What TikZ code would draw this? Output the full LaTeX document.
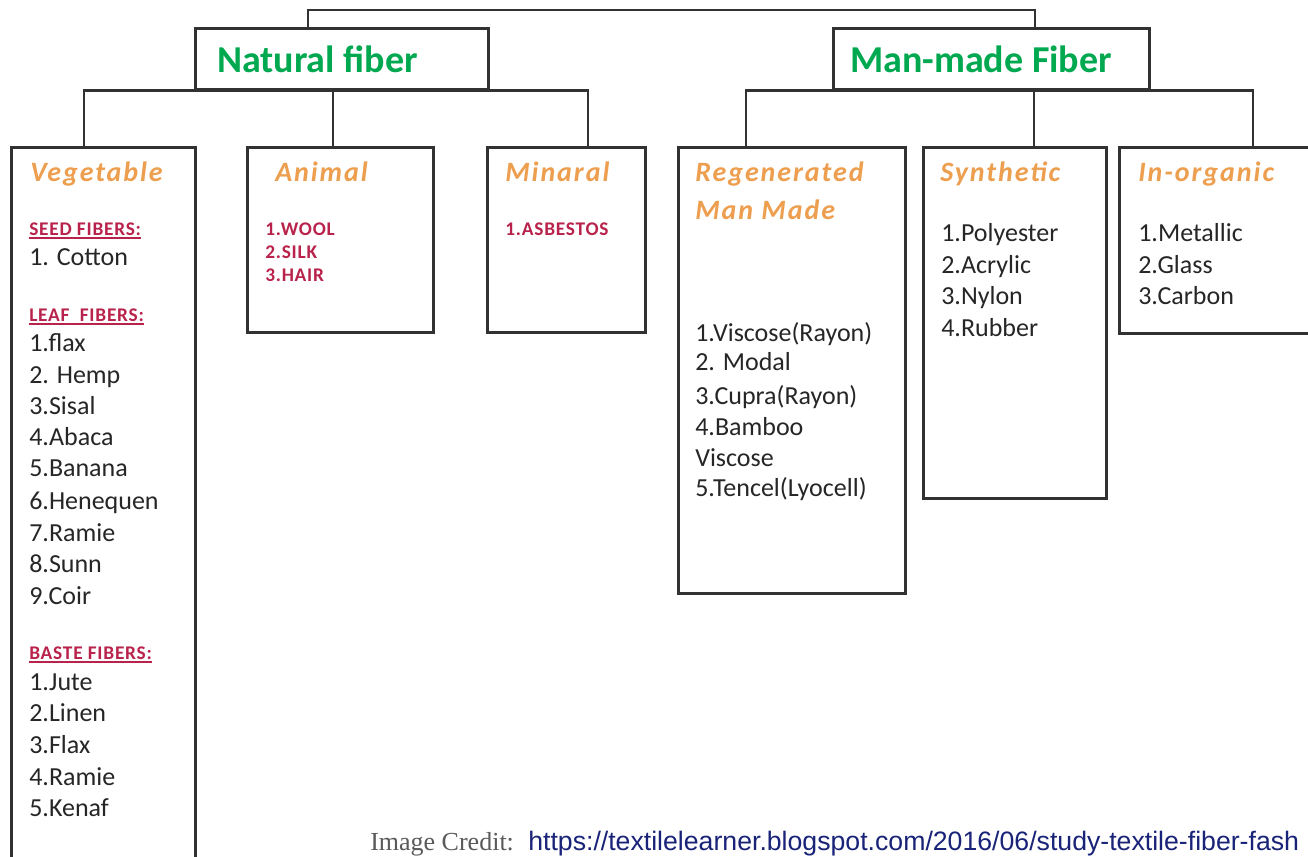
\documentclass[tikz,border=0pt]{standalone}
\usepackage{fontspec}
\setmainfont{Carlito}
\newfontfamily\ttlfont[LetterSpace=7]{Carlito}
\newfontfamily\hdfont[LetterSpace=4]{Carlito}
\newfontfamily\credfont{Liberation Serif}
\newfontfamily\urlfont{Liberation Sans}
\definecolor{fgreen}{RGB}{0,168,80}
\definecolor{forange}{RGB}{237,158,78}
\definecolor{hdc}{RGB}{185,35,75}
\definecolor{itemc}{RGB}{38,38,38}
\definecolor{linec}{RGB}{50,50,50}
\definecolor{credc}{RGB}{90,90,90}
\definecolor{urlc}{RGB}{25,35,120}
\begin{document}
\begin{tikzpicture}[x=0.75pt,y=-0.75pt,
  box/.style={draw=linec, line width=1.9pt, anchor=north west, inner sep=0pt},
  wire/.style={draw=linec, line width=1.6pt},
  maintitle/.style={anchor=base west, inner sep=0pt, font=\fontsize{28.5}{34}\selectfont\bfseries, text=fgreen},
  cat/.style={anchor=base west, inner sep=0pt, font=\ttlfont\fontsize{21}{25}\selectfont\bfseries\itshape, text=forange},
  item/.style={anchor=base west, inner sep=0pt, font=\fontsize{19.5}{23}\selectfont, text=itemc},
  head/.style={anchor=base west, inner sep=0pt, font=\hdfont\fontsize{14.5}{17}\selectfont\bfseries, text=hdc},
  uline/.style={draw=hdc, line width=0.9pt}
]
\fill[white] (0,0) rectangle (1308,856);
\path[use as bounding box, clip] (0,0) rectangle (1308,856);

% top level boxes
\node[box, minimum width=219.75pt, minimum height=45.75pt] (nat) at (194,27) {};
\node[box, minimum width=237pt, minimum height=45.75pt] (man) at (832,27) {};
\node[maintitle] (natt) at (217,72) {Natural fiber};
\node[maintitle] (mant) at (850,72) {Man-made Fiber};

% second level boxes
\node[box, minimum width=138pt, minimum height=543pt] (veg) at (10,146) {};
\node[box, minimum width=139.5pt, minimum height=138.75pt] (ani) at (246,146) {};
\node[box, minimum width=118.5pt, minimum height=138.75pt] (mnr) at (486,146) {};
\node[box, minimum width=170.25pt, minimum height=334.5pt] (reg) at (677,146) {};
\node[box, minimum width=137.25pt, minimum height=263.25pt] (syn) at (922,146) {};
\node[box, minimum width=159pt, minimum height=139.5pt] (ino) at (1118,146) {};

% connectors
\coordinate (t1) at (308,10);
\coordinate (t2) at (1035,10);
\draw[wire] (t1 |- nat.north) -- (t1) -- (t2) -- (t2 |- man.north);
\coordinate (va) at (84,146);
\coordinate (aa) at (333,146);
\coordinate (ma) at (588,146);
\draw[wire] (va) -- (va |- nat.south) -- (ma |- nat.south) -- (ma);
\draw[wire] (aa) -- (aa |- nat.south);
\coordinate (ra) at (746,146);
\coordinate (sa) at (1034,146);
\coordinate (ia) at (1253,146);
\draw[wire] (ra) -- (ra |- man.south) -- (ia |- man.south) -- (ia);
\draw[wire] (sa) -- (sa |- man.south);

% category titles
\node[cat] (vegt) at (30,181) {Vegetable};
\node[cat] (anit) at (275,181) {Animal};
\node[cat] (mnrt) at (505,181) {Minaral};
\node[cat] (regt1) at (695,181) {Regenerated};
\node[cat] (regt2) at (695,219) {Man Made};
\node[cat] (synt) at (940,181) {Synthetic};
\node[cat] (inot) at (1138,181) {In-organic};

% vegetable contents
\node[head] (vh1) at (29,235) {SEED FIBERS:};
\draw[uline] ([yshift=-2.2pt]vh1.base west) -- ([yshift=-2.2pt]vh1.base east);
\node[item] (vs1) at (29,265) {1. Cotton};
\node[head] (vh2) at (29,321) {LEAF~ FIBERS:};
\draw[uline] ([yshift=-2.2pt]vh2.base west) -- ([yshift=-2.2pt]vh2.base east);
\foreach \t/\yy [count=\i] in {{1.flax}/351, {2. Hemp}/383, {3.Sisal}/414, {4.Abaca}/445, {5.Banana}/476, {6.Henequen}/509, {7.Ramie}/541, {8.Sunn}/572, {9.Coir}/604}
  \node[item] (vl\i) at (29,\yy) {\t};
\node[head] (vh3) at (29,659) {BASTE FIBERS:};
\draw[uline] ([yshift=-2.2pt]vh3.base west) -- ([yshift=-2.2pt]vh3.base east);
\foreach \t/\yy [count=\i] in {{1.Jute}/690, {2.Linen}/721, {3.Flax}/753, {4.Ramie}/785, {5.Kenaf}/816}
  \node[item] (vb\i) at (29,\yy) {\t};

% animal and mineral
\node[head] (an1) at (265,235) {1.WOOL};
\node[head] (an2) at (265,258) {2.SILK};
\node[head] (an3) at (265,281) {3.HAIR};
\node[head] (mn1) at (505,235) {1.ASBESTOS};

% regenerated
\foreach \t/\yy [count=\i] in {{1.Viscose(Rayon)}/341, {2. Modal}/370, {3.Cupra(Rayon)}/404, {4.Bamboo}/435, {Viscose}/466, {5.Tencel(Lyocell)}/496}
  \node[item] (rg\i) at (695,\yy) {\t};

% synthetic
\foreach \t/\yy [count=\i] in {{1.Polyester}/241, {2.Acrylic}/273, {3.Nylon}/304, {4.Rubber}/336}
  \node[item] (sy\i) at (941,\yy) {\t};

% in-organic
\foreach \t/\yy [count=\i] in {{1.Metallic}/241, {2.Glass}/273, {3.Carbon}/304}
  \node[item] (in\i) at (1138,\yy) {\t};

% credit
\node[anchor=base west, inner sep=0pt, font=\credfont\fontsize{19.5}{23}\selectfont, text=credc] (cred) at (370,850) {Image Credit:};
\node[anchor=base west, inner sep=0pt, font=\urlfont\fontsize{20}{24}\selectfont, text=urlc] (url) at (528,850) {https://textilelearner.blogspot.com/2016/06/study-textile-fiber-fash};
\end{tikzpicture}
\end{document}
